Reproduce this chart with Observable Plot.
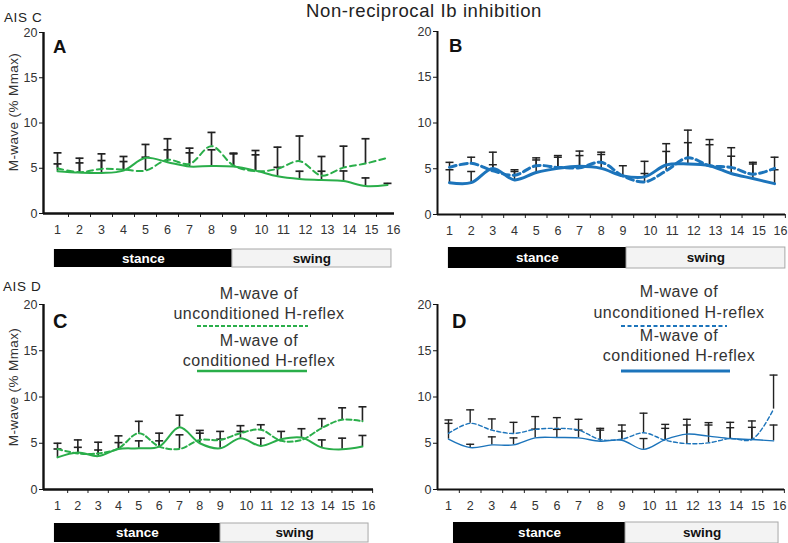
<!DOCTYPE html>
<html><head><meta charset="utf-8">
<script src="https://cdn.jsdelivr.net/npm/d3@7"></script>
<script src="https://cdn.jsdelivr.net/npm/@observablehq/plot@0.6"></script>
<style>
html,body{margin:0;padding:0;background:#fff;}
#root{position:relative;width:788px;height:543px;overflow:hidden;font-family:"Liberation Sans",Arial,sans-serif;}
#root svg{position:absolute;}
</style></head><body>
<div id="root">
<svg id="ann" width="788" height="543" style="left:0;top:0" font-family="Liberation Sans, Arial, sans-serif">
  <text x="424" y="17" text-anchor="middle" font-size="18.5" letter-spacing="0.6" fill="#222">Non-reciprocal Ib inhibition</text>
  <text x="4" y="22" font-size="13.5" letter-spacing="0.6" fill="#222">AIS C</text>
  <text x="3" y="291" font-size="13.5" letter-spacing="0.6" fill="#222">AIS D</text>
  <text transform="translate(18,112) rotate(-90)" text-anchor="middle" font-size="13.5" letter-spacing="0.4" fill="#333">M-wave (% Mmax)</text>
  <text transform="translate(18,387) rotate(-90)" text-anchor="middle" font-size="13.5" letter-spacing="0.4" fill="#333">M-wave (% Mmax)</text>
  <text x="53" y="53" font-weight="bold" font-size="18.5" fill="#111">A</text>
  <text x="449" y="52" font-weight="bold" font-size="18.5" fill="#111">B</text>
  <text x="53" y="328" font-weight="bold" font-size="20" fill="#111">C</text>
  <text x="452" y="328" font-weight="bold" font-size="20" fill="#111">D</text>
  <g font-size="16" letter-spacing="0.5" fill="#333" text-anchor="middle">
    <text x="259" y="299">M-wave of</text>
    <text x="259" y="319">unconditioned H-reflex</text>
    <text x="259" y="346">M-wave of</text>
    <text x="259" y="366">conditioned H-reflex</text>
    <text x="679" y="297">M-wave of</text>
    <text x="679" y="318">unconditioned H-reflex</text>
    <text x="679" y="341">M-wave of</text>
    <text x="679" y="361">conditioned H-reflex</text>
  </g>
  <line x1="197" x2="308" y1="326" y2="326" stroke="#2aae4a" stroke-width="2" stroke-dasharray="4,2"/>
  <line x1="197" x2="307" y1="371" y2="371" stroke="#2aae4a" stroke-width="2.5"/>
  <line x1="621" x2="727" y1="326" y2="326" stroke="#1c74bb" stroke-width="2" stroke-dasharray="4,2.5"/>
  <line x1="621" x2="730" y1="371" y2="371" stroke="#1c74bb" stroke-width="3"/>
</svg>
</div>
<script>
// gait-cycle bins
const cycle = [1,2,3,4,5,6,7,8,9,10,11,12,13,14,15,16];
const tickLabels = ["1","2","3","4","5","6","7","8","9","10","11","12","13","14","15","16"];
const yTicks = [0,5,10,15,20];
const phaseNames = ["stance","swing"];

// Panel A (AIS C, green)
const aCond      = [4.67,4.52,4.48,4.74,6.15,5.67,5.19,5.26,5.19,4.74,4.11,3.81,3.70,3.59,3.04,3.15];
const aCondTop   = [5.48,5.59,5.85,5.74,7.63,7.04,6.70,7.04,6.59,6.48,5.10,4.67,4.67,4.70,3.93,3.33];
const aUncond    = [5.00,4.56,4.93,4.85,4.74,5.93,5.48,7.44,5.30,4.67,4.93,5.78,4.19,5.07,5.52,6.15];
const aUncondTop = [6.70,6.11,6.59,6.30,6.22,8.26,7.22,8.96,6.67,6.96,7.33,8.56,6.30,7.44,8.26,null];
const aPhase     = [0.86, 8.95, 16.18];

// Panel B (AIS C, blue)
const bCond      = [3.48,3.48,5.04,3.78,4.59,5.04,5.26,5.04,4.22,4.11,5.41,5.52,5.33,4.48,3.93,3.37];
const bCondTop   = [4.89,4.70,6.81,4.70,5.96,6.26,6.44,6.56,5.33,4.48,6.89,7.85,7.63,6.37,5.52,4.89];
const bUncond    = [5.15,5.59,4.78,4.30,5.33,5.15,5.11,5.70,4.22,3.56,4.78,6.19,5.33,5.15,4.41,5.04];
const bUncondTop = [5.70,6.26,5.44,4.89,6.19,6.44,6.93,6.81,null,5.81,7.74,9.22,8.19,7.30,5.70,6.26];
const bPhase     = [0.95, 9.17, 16.5];

// Panel C (AIS D, green)
const cCond      = [3.47,4.01,3.61,4.38,4.45,4.64,6.72,5.00,4.45,5.55,4.71,5.44,5.62,4.53,4.34,4.64];
const cCondTop   = [4.38,4.56,4.27,5.07,5.26,5.26,8.03,6.09,5.44,6.28,5.55,6.28,6.57,5.36,5.55,5.84];
const cUncond    = [4.38,3.90,3.90,4.45,6.09,4.64,4.38,5.36,5.36,6.09,6.46,5.26,5.36,6.64,7.55,7.37];
const cUncondTop = [5.00,5.36,5.11,5.80,7.37,6.09,5.91,6.39,6.28,6.90,7.00,null,null,7.66,8.83,8.94];
const cPhase     = [0.85, 9.02, 16.3];

// Panel D (AIS D, blue)
const dCond      = [5.44,4.53,4.82,4.82,5.58,5.62,5.58,5.22,5.33,4.34,5.40,5.99,5.77,5.51,5.40,5.26];
const dCondTop   = [7.15,4.89,5.69,5.58,6.53,6.50,6.42,6.42,6.31,5.51,6.61,7.59,7.23,6.68,6.72,6.97];
const dUncond    = [6.06,7.15,6.42,6.06,6.50,6.61,6.42,5.40,5.44,6.13,5.33,4.96,5.04,5.51,5.40,8.69];
const dUncondTop = [7.52,8.61,7.63,7.26,7.88,7.77,7.59,6.61,6.97,8.25,7.04,6.97,6.97,7.26,7.41,12.37];
const dPhase     = [1.23, 9.17, 16.23];

const GREEN = "#2aae4a", BLUE = "#1c74bb";
const FONT = "'Liberation Sans', Arial, sans-serif";

const panels = [
  {cond:aCond, condTop:aCondTop, unc:aUncond, uncTop:aUncondTop, phase:aPhase, color:GREEN,
   left:0, p1:57, step:22, origin:43, end:394, y20:32, y0:213, barTop:249, barH:18, lw:2, dash:"6,4", errW:1.7, axisW:2.4},
  {cond:bCond, condTop:bCondTop, unc:bUncond, uncTop:bUncondTop, phase:bPhase, color:BLUE,
   left:394, p1:449, step:21.67, origin:437, end:785, y20:31, y0:214, barTop:247, barH:21, lw:3, dash:"7,4", errW:1.5, axisW:2},
  {cond:cCond, condTop:cCondTop, unc:cUncond, uncTop:cUncondTop, phase:cPhase, color:GREEN,
   left:0, p1:57, step:20.33, origin:43, end:373, y20:304, y0:489, barTop:523, barH:19, lw:2, dash:"5,3", errW:1.6, axisW:2.4},
  {cond:dCond, condTop:dCondTop, unc:dUncond, uncTop:dUncondTop, phase:dPhase, color:BLUE,
   left:394, p1:448, step:21.67, origin:437, end:784, y20:304, y0:489, barTop:522, barH:21, lw:1.4, dash:"4,2.5", errW:1.4, axisW:2}
];

const cap = {draw(ctx, size){ const w = Math.sqrt(size/Math.PI); ctx.moveTo(-w,0); ctx.lineTo(w,0); }};
const root = document.getElementById("root");

for (const p of panels) {
  const x0 = 1 - (p.p1 - p.origin)/p.step, x1 = 1 + (p.end - p.p1)/p.step;
  const mt = 12, mb = 32;
  const top = p.y20 - mt;
  const height = p.y0 - top + mb;
  const width = p.end - p.left;
  const ml = p.origin - p.left;
  const series = (vals, tops) => cycle.map((c,i)=>({x:c, y:vals[i], hi:tops[i]}));
  const condData = series(p.cond, p.condTop), uncData = series(p.unc, p.uncTop);
  const errData = [...condData, ...uncData].filter(d => d.hi != null);
  const half = d3.range(1.5, 17, 1).filter(t => t <= x1 + 1e-6);
  const style = {fontFamily: FONT, fontSize: "12px", color: "#222", background: "transparent", overflow: "visible"};

  const svg = Plot.plot({
    width, height, marginLeft: ml, marginRight: 0, marginTop: mt, marginBottom: mb,
    x: {domain: [x0, x1]}, y: {domain: [0, 20]},
    style,
    marks: [
      Plot.axisY({ticks: yTicks, tickSize: 4, tickPadding: 2, label: null, fontSize: 12.5, fill: "#333", stroke: "#111"}),
      Plot.axisX({ticks: half, tickSize: 4, tickFormat: () => "", label: null}),
      Plot.ruleY([0], {strokeWidth: p.axisW, stroke: "#111"}),
      Plot.ruleX([x0], {strokeWidth: p.axisW, stroke: "#111"}),
      Plot.ruleX(errData, {x: "x", y1: "y", y2: "hi", stroke: "#222", strokeWidth: p.errW}),
      Plot.dot(errData, {x: "x", y: "hi", r: 4, symbol: cap, stroke: "#222", strokeWidth: p.errW, fill: "none"}),
      Plot.line(uncData, {x: "x", y: "y", curve: "catmull-rom", stroke: p.color, strokeWidth: p.lw, strokeDasharray: p.dash}),
      Plot.line(condData, {x: "x", y: "y", curve: "catmull-rom", stroke: p.color, strokeWidth: p.lw}),
      Plot.text(cycle.filter(c => c < 10), {x: d => d, text: d => tickLabels[d-1], frameAnchor: "bottom", dy: 20, fontSize: 12.5, fill: "#333"}),
      Plot.text(cycle.filter(c => c >= 10), {x: d => d, text: d => tickLabels[d-1], frameAnchor: "bottom", dy: 20, dx: 6, fontSize: 12.5, fill: "#333"})
    ]
  });
  svg.style.left = p.left + "px";
  svg.style.top = top + "px";
  root.appendChild(svg);

  const phases = phaseNames.map((n,i) => ({name: n, from: p.phase[i], to: p.phase[i+1]}));
  const bar = Plot.plot({
    width, height: p.barH, marginLeft: ml, marginRight: 0, marginTop: 0, marginBottom: 0,
    x: {domain: [x0, x1], axis: null},
    style,
    marks: [
      Plot.rect(phases.filter(d => d.name === "stance"), {x1: "from", x2: "to", fill: "#000"}),
      Plot.rect(phases.filter(d => d.name === "swing"), {x1: "from", x2: "to", fill: "#f3f3f3", stroke: "#a8a8a8", strokeWidth: 1}),
      Plot.text(phases, {x: d => (d.from + d.to)/2, text: "name", fill: d => d.name === "stance" ? "#fff" : "#111",
        fontWeight: "bold", fontSize: 13.5, frameAnchor: "middle"})
    ]
  });
  bar.style.left = p.left + "px";
  bar.style.top = p.barTop + "px";
  root.appendChild(bar);
}
</script>
</body></html>
